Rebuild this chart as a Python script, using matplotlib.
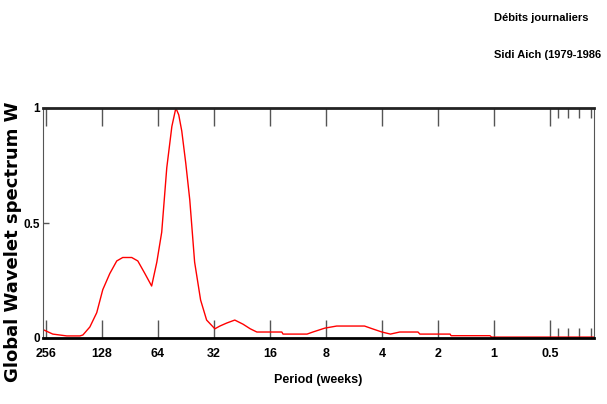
import matplotlib.pyplot as plt
from matplotlib.ticker import FixedLocator, NullFormatter

# Data (period in weeks, normalised global wavelet power)
period = [262.4, 234.8, 197.4, 167.9, 161.8, 148.4, 136.3, 126.5, 116.0,
          106.4, 98.8, 88.4, 82.0, 75.1, 69.1, 64.8, 61.0, 57.3, 53.8, 51.2,
          49.4, 47.6, 45.3, 43.1, 40.6, 37.7, 35.0, 31.6, 29.7, 27.3, 24.7,
          22.3, 20.4, 18.8, 13.8, 13.6, 10.1, 9.4, 8.1, 7.0, 4.96, 4.5, 4.0,
          3.6, 3.21, 2.56, 2.5, 1.72, 1.7, 1.05, 1.03, 0.29]
power = [0.035, 0.017, 0.009, 0.009, 0.013, 0.048, 0.11, 0.21, 0.28, 0.335,
         0.35, 0.35, 0.335, 0.28, 0.226, 0.33, 0.46, 0.74, 0.92, 1.0, 0.97,
         0.9, 0.76, 0.6, 0.33, 0.165, 0.078, 0.04, 0.052, 0.065, 0.078, 0.06,
         0.04, 0.026, 0.026, 0.017, 0.017, 0.026, 0.043, 0.052, 0.052, 0.04,
         0.026, 0.017, 0.026, 0.026, 0.017, 0.017, 0.01, 0.01, 0.004, 0.004]

xticks = [256, 128, 64, 32, 16, 8, 4, 2, 1, 0.5]
xticklabels = ['256', '128', '64', '32', '16', '8', '4', '2', '1', '0.5']
minor_ticks = [0.45, 0.4, 0.35, 0.3]
yticks = [0, 0.5, 1]
yticklabels = ['0', '0.5', '1']

fig = plt.figure(figsize=(6.07, 4.04), dpi=100)
ax = fig.add_axes([43 / 607, 66 / 404, 551 / 607, 230 / 404])

ax.plot(period, power, color='red', lw=1.0)

ax.set_xscale('log', base=2)
ax.set_xlim(265, 0.29)
ax.set_ylim(0, 1)

ax.xaxis.set_major_locator(FixedLocator(xticks))
ax.set_xticklabels(xticklabels, family='Liberation Sans', fontweight='bold',
                   fontsize=9)
ax.xaxis.set_minor_locator(FixedLocator(minor_ticks))
ax.xaxis.set_minor_formatter(NullFormatter())
ax.set_yticks(yticks)
ax.set_yticklabels(yticklabels, family='Liberation Sans', fontweight='bold',
                   fontsize=8.5)

ax.tick_params(axis='x', which='major', direction='in', length=13, width=1,
               color='#555555', top=True, pad=7)
ax.tick_params(axis='x', which='minor', direction='in', length=7, width=1,
               color='#555555', top=True)
ax.tick_params(axis='y', direction='in', length=4, width=1, color='#555555',
               pad=2)

ax.spines['bottom'].set_linewidth(2)
ax.spines['bottom'].set_color('black')
ax.spines['top'].set_linewidth(2)
ax.spines['top'].set_color('#222222')
ax.spines['left'].set_color('#555555')
ax.spines['right'].set_color('#555555')

ax.set_xlabel('Period (weeks)', family='Liberation Sans', fontweight='bold',
              fontsize=9, labelpad=10)
fig.text(13 / 607, 1 - 242 / 404, 'Global Wavelet spectrum W', rotation=90,
         ha='center', va='center', fontsize=13, fontweight='bold',
         family='DejaVu Sans')

fig.text(494 / 607, 1 - 18 / 404, 'Débits journaliers', ha='left',
         va='center', fontsize=8, fontweight='bold', family='Liberation Sans')
fig.text(494 / 607, 1 - 55 / 404, 'Sidi Aich (1979-1986', ha='left',
         va='center', fontsize=8, fontweight='bold', family='Liberation Sans')

fig.savefig('out.png', dpi=100)
